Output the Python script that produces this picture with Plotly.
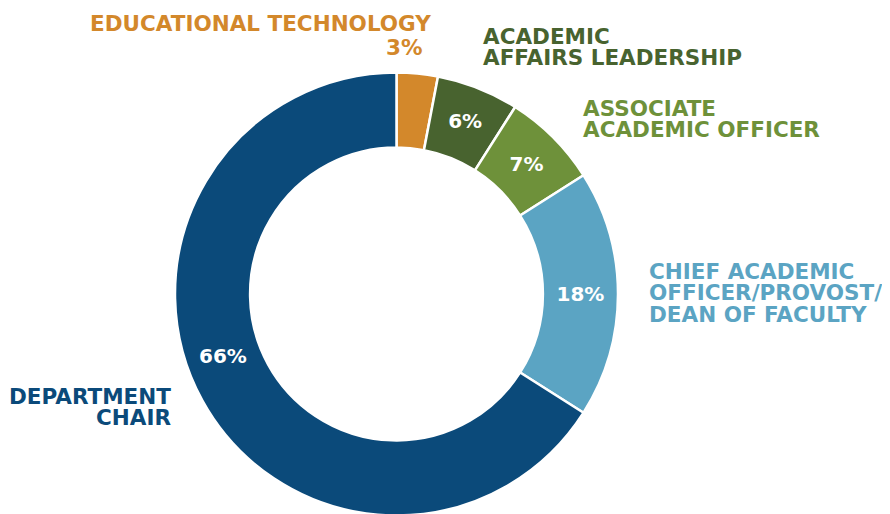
import plotly.graph_objects as go

categories = ["EDUCATIONAL TECHNOLOGY", "ACADEMIC AFFAIRS LEADERSHIP", "ASSOCIATE ACADEMIC OFFICER",
              "CHIEF ACADEMIC OFFICER/PROVOST/DEAN OF FACULTY", "DEPARTMENT CHAIR"]
values = [3, 6, 7, 18, 66]
colors = ["#D3882B", "#48632F", "#6E913A", "#5BA4C3", "#0B4A7A"]

W, H = 890, 514
FONT = "DejaVu Sans"
OFF = 8  # default page body margin

def px(x):
    return (x - OFF) / W

def py(y):
    return 1 - (y - OFF) / H

inside_text = ["" if v in (3, 66) else f"{v}%" for v in values]

cx, cy, r = 396.5, 294, 221.5

fig = go.Figure(go.Pie(
    labels=categories,
    values=values,
    marker=dict(colors=colors, line=dict(color="white", width=2.5)),
    hole=0.661,
    sort=False,
    direction="clockwise",
    rotation=0,
    text=inside_text,
    textinfo="text",
    textposition="inside",
    insidetextorientation="horizontal",
    textfont=dict(family=FONT, size=20, color="white", weight="bold"),
    hoverinfo="label+value",
    showlegend=False,
    domain=dict(x=[px(cx - r), px(cx + r)], y=[py(cy + r), py(cy - r)]),
))

annos = []

def add(text, x, y, color, xanchor, size=21.5):
    annos.append(dict(text=text, x=px(x), y=py(y), xref="paper", yref="paper",
                      xanchor=xanchor, yanchor="middle", showarrow=False,
                      font=dict(family=FONT, size=size, color=color, weight="bold")))

# category labels (one annotation per line)
add(categories[0], 433, 23, colors[0], "right")
add(f"{values[0]}%", 425, 47.5, colors[0], "right")
add("ACADEMIC", 481, 36.5, colors[1], "left")
add("AFFAIRS LEADERSHIP", 481, 58, colors[1], "left")
add("ASSOCIATE", 581, 108.5, colors[2], "left")
add("ACADEMIC OFFICER", 581, 129.5, colors[2], "left")
add("CHIEF ACADEMIC", 647, 271, colors[3], "left")
add("OFFICER/PROVOST/", 647, 292.5, colors[3], "left")
add("DEAN OF FACULTY", 647, 314, colors[3], "left")
add("DEPARTMENT", 173, 396, colors[4], "right")
add("CHAIR", 173, 417, colors[4], "right")
# 66% label inside the large slice
add(f"{values[4]}%", 222.5, 355.5, "white", "center", size=20)

fig.update_layout(
    width=W, height=H,
    margin=dict(l=0, r=0, t=0, b=0),
    paper_bgcolor="white", plot_bgcolor="white",
    annotations=annos,
)

fig.write_html("out.html")
